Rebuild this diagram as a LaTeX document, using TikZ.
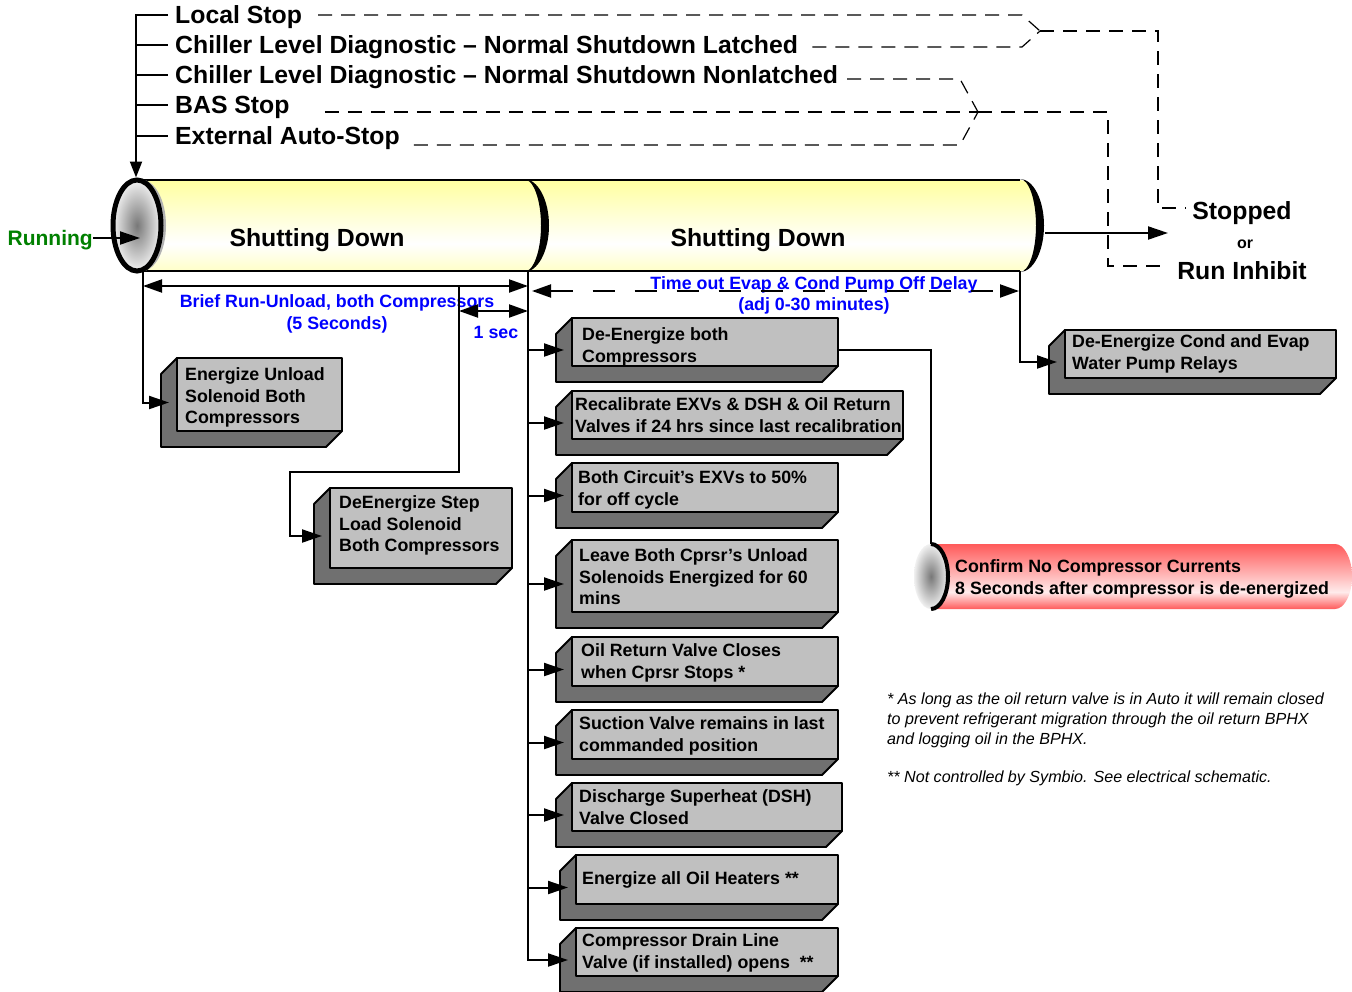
\documentclass[tikz,border=0pt]{standalone}
\usepackage{fontspec}
\setmainfont{Liberation Sans}
\usetikzlibrary{arrows.meta,shapes.geometric,calc}

\definecolor{cylY}{RGB}{255,255,160}
\definecolor{cylYb}{RGB}{255,255,200}
\definecolor{boxF}{RGB}{192,192,192}
\definecolor{boxS}{RGB}{112,112,112}
\definecolor{dimblue}{RGB}{0,0,255}
\definecolor{rungreen}{RGB}{0,128,0}
\definecolor{cylR}{RGB}{255,90,90}
\definecolor{cylRl}{RGB}{255,235,235}
\definecolor{capin}{RGB}{120,120,120}
\definecolor{capout}{RGB}{240,240,240}

\pgfdeclareverticalshading{yelcyl}{100bp}{color(0bp)=(cylYb); color(25bp)=(cylYb); color(40bp)=(white); color(75bp)=(cylY); color(100bp)=(cylY)}
\pgfdeclareverticalshading{redcyl}{100bp}{color(0bp)=(cylR); color(25bp)=(cylR); color(38bp)=(cylRl); color(75bp)=(cylR); color(100bp)=(cylR)}

\tikzset{
  ln/.style={line width=2pt},
  arr/.style={line width=2pt, -{Triangle[length=20pt,width=13pt]}},
  dimarr/.style={line width=2pt, {Triangle[length=19pt,width=13pt]}-{Triangle[length=19pt,width=13pt]}},
  dsh/.style={line width=1.2pt, dash pattern=on 14pt off 9pt},
  lbl/.style={font=\bfseries\fontsize{24.8}{30}\selectfont, inner sep=0pt, anchor=west, text height=17.8pt, text depth=0pt},
  bigc/.style={font=\bfseries\fontsize{24.8}{30}\selectfont, inner sep=0pt, text height=17.8pt, text depth=0pt},
  bl/.style={font=\bfseries\fontsize{17.8}{22}\selectfont, inner sep=0pt, text height=12.8pt, text depth=0pt, text=dimblue},
  btxt/.style={font=\bfseries\fontsize{17.8}{21.5}\selectfont, align=left, inner sep=0pt, anchor=north west},
  note/.style={font=\itshape\fontsize{16.1}{20}\selectfont, align=left, inner sep=0pt, anchor=north west},
}

% #1 name, #2 x1 front-left, #3 y1 top, #4 x2 right, #5 y2 front bottom, #6 text x, #7 first line centre y, #8 text
\newcommand{\bevbox}[8]{%
  \filldraw[fill=boxS, line width=1.9pt, line join=round] (#2,#3) -- (#2-16,#3+16) -- (#2-16,#5+16) -- (#4-16,#5+16) -- (#4,#5) -- cycle;
  \filldraw[fill=boxF, line width=1.9pt, line join=round] (#2,#3) rectangle (#4,#5);
  \coordinate (#1in) at (#2-8,{(#3+#5)/2+8});
  \coordinate (#1out) at (#4,{(#3+#5)/2+8});
  \node[btxt] (#1) at (#6,#7-6.5) {#8};
}

\begin{document}
\begin{tikzpicture}[x=1pt,y=-1pt]
\fill[white] (0,0) rectangle (1352,991);
\useasboundingbox (0,0) rectangle (1352,991);

% ---------- stop sources ----------
\node[lbl] (l1) at (175,15) {Local Stop};
\node[lbl] (l2) at (175,45) {Chiller Level Diagnostic – Normal Shutdown Latched};
\node[lbl] (l3) at (175,75) {Chiller Level Diagnostic – Normal Shutdown Nonlatched};
\node[lbl] (l4) at (175,105) {BAS Stop};
\node[lbl] (l5) at (175,136) {External Auto-Stop};

% ---------- main cylinder ----------
\path[shading=yelcyl] (137,180) -- (1020,180) arc[start angle=-90,end angle=90,x radius=22,y radius=45.5] -- (137,271) -- cycle;
\draw[line width=2pt] (137,180) -- (1020,180);
\draw[line width=2pt] (137,271) -- (1020,271);
\fill (524,179) arc[start angle=-90,end angle=90,x radius=25,y radius=46.5] arc[start angle=90,end angle=-90,x radius=17,y radius=46.5] -- cycle;
\fill (1020,179) arc[start angle=-90,end angle=90,x radius=24,y radius=46.5] arc[start angle=90,end angle=-90,x radius=16,y radius=46.5] -- cycle;
\fill[black!30] (141,225.5) ellipse[x radius=25, y radius=46];
\node[ellipse, draw, line width=5pt, shading=radial, inner color=capin, outer color=capout,
      minimum width=48pt, minimum height=91pt, inner sep=0pt] (cap) at (137,225.5) {};

\node[bigc] (sd1) at (317,238) {Shutting Down};
\node[bigc] (sd2) at (758,238) {Shutting Down};

\node[font=\bfseries\fontsize{21}{25}\selectfont, text=rungreen, inner sep=0pt, anchor=east,
      text height=15pt, text depth=0pt] (run) at (93,238) {Running};
\draw[arr] (run.east) -- ([xshift=3pt]run.east -| cap.center);

% stop bus
\coordinate (bus) at (136,15);
\draw[line width=2pt, -{Triangle[length=16pt,width=12pt]}] ([xshift=-7pt]l1.west) -- (bus) -- (bus |- cap.north);
\foreach \n in {l2,l3,l4,l5} \draw[ln] (bus |- \n.west) -- ([xshift=-7pt]\n.west);

% dashed merges
\coordinate (m1) at (1040,31);
\coordinate (m2) at (978,112);
\draw[dsh] ([xshift=16pt]l1.east) -- (1022,15) -- (m1);
\draw[dsh] ([xshift=14pt,yshift=-2pt]l2.east) -- (1022,47) -- (m1);
\draw[dsh] (m1) -- (1158,31) -- (1158,208) -- (1186,208);
\draw[dsh] ([xshift=9pt,yshift=-4pt]l3.east) -- (960,79) -- (m2);
\draw[dsh] ([xshift=35pt,yshift=-7pt]l4.east) -- (m2);
\draw[dsh] ([xshift=14pt,yshift=-9pt]l5.east) -- (960,145) -- (m2);
\draw[dsh] (m2) -- (1108,112) -- (1108,266) -- (1162,266);

% outputs
\node[bigc] (stp) at (1242,211) {Stopped};
\node[font=\bfseries\fontsize{16}{19}\selectfont, inner sep=0pt, text height=11.5pt, text depth=0pt] (orl) at (1245,243) {or};
\node[bigc] (rinh) at (1242,271) {Run Inhibit};
\coordinate (c2out) at (1045,233);
\coordinate (outtip) at (1168,233);
\draw[arr] (c2out) -- (outtip);

% ---------- boxes ----------
\bevbox{bA}{177}{358}{342}{431}{185}{374}{Energize Unload\\Solenoid Both\\Compressors}
\bevbox{bB}{330}{488}{512}{568}{339}{502}{DeEnergize Step\\Load Solenoid\\Both Compressors}
\bevbox{bone}{572}{318}{838}{366}{582}{334}{De-Energize both\\Compressors}
\bevbox{btwo}{572}{391}{903}{439}{575}{404}{Recalibrate EXVs \& DSH \& Oil Return\\Valves if 24 hrs since last recalibration}
\bevbox{bthree}{572}{463}{838}{512}{578}{477}{Both Circuit’s EXVs to 50\%\\for off cycle}
\bevbox{bfour}{572}{540}{838}{612}{579}{555}{Leave Both Cprsr’s Unload\\Solenoids Energized for 60\\mins}
\bevbox{bfive}{572}{637}{838}{686}{581}{650}{Oil Return Valve Closes\\when Cprsr Stops *}
\bevbox{bsix}{572}{710}{838}{759}{579}{723}{Suction Valve remains in last\\commanded position}
\bevbox{bseven}{572}{783}{842}{831}{579}{796}{Discharge Superheat (DSH)\\Valve Closed}
\bevbox{beight}{576}{855}{838}{904}{582}{878}{Energize all Oil Heaters **}
\bevbox{bnine}{576}{928}{838}{976}{582}{940}{Compressor Drain Line\\Valve (if installed) opens~~**}
\bevbox{bR}{1065}{330}{1336}{378}{1072}{341}{De-Energize Cond and Evap\\Water Pump Relays}

% ---------- timing ----------
\node[bl] (brief) at (337,301) {Brief Run-Unload, both Compressors};
\node[bl] (fives) at (337,323) {(5 Seconds)};
\node[bl] (onesec) at (496,332) {1 sec};
\node[bl] (tout) at (814,283) {Time out Evap \& Cond Pump Off Delay};
\node[bl] (adj) at (814,304) {(adj 0-30 minutes)};

\coordinate (cylBL) at (143,271);
\coordinate (dimL) at (143,286);
\coordinate (dimM) at (528,286);
\coordinate (brk) at (459,286);
\coordinate (secL) at (459,311);
\coordinate (secR) at (528,311);
\coordinate (trunk) at (528,271);
\coordinate (toL) at (532,291);
\coordinate (toR) at (1019,291);
\coordinate (cylBR) at (1020,271);
\coordinate (jog) at (290,472);

\draw[arr] (cylBL) |- (bAin);
\draw[dimarr] (dimL) -- (dimM);
\draw[dimarr] (secL) -- (secR);
\draw[arr] (brk) -- (brk |- jog) -- (jog) |- (bBin);
\draw[dimarr, dash pattern=on 22pt off 20pt] (toL) -- (toR);
\draw[arr] (cylBR) |- (bRin);

\draw[arr] (trunk) |- (bninein);
\foreach \b in {bone,btwo,bthree,bfour,bfive,bsix,bseven,beight}
  \draw[arr] (trunk |- \b in) -- (\b in);

% ---------- red cylinder ----------
\path[shading=redcyl] (931,544) -- (1335,544) arc[start angle=-90,end angle=90,x radius=17,y radius=32.5] -- (931,609) -- cycle;
\node[ellipse, shading=radial, inner color=capin, outer color=capout,
      minimum width=34pt, minimum height=65pt, inner sep=0pt] (rcap) at (931,576.5) {};
\draw[line width=4pt] (931,544) arc[start angle=-90,end angle=90,x radius=17,y radius=32.5];
\node[btxt] (rtxt) at (955,559.5) {Confirm No Compressor Currents\\8 Seconds after compressor is de-energized};
\draw[ln] (boneout) -| (rcap.north);

% ---------- notes ----------
\node[note] (n1) at (887,693) {* As long as the oil return valve is in Auto it will remain closed\\to prevent refrigerant migration through the oil return BPHX\\and logging oil in the BPHX.};
\node[note] (n2) at (887,771) {** Not controlled by Symbio. See electrical schematic.};
\end{tikzpicture}
\end{document}
